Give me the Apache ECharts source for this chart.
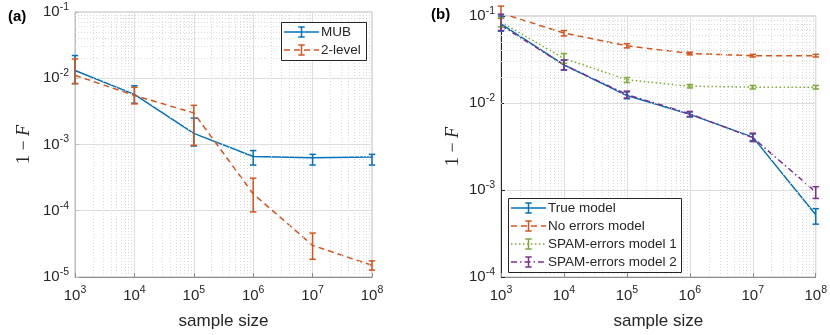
<!DOCTYPE html>
<html>
<head>
<meta charset="utf-8">
<script src="https://cdn.jsdelivr.net/npm/echarts@6/dist/echarts.min.js"></script>
<style>
html,body{margin:0;padding:0;background:#fff;}
#c{width:830px;height:335px;}
</style>
</head>
<body>
<div id="c"></div>
<script>
// ---------- data ----------
const sampleSize = [1e3, 1e4, 1e5, 1e6, 1e7, 1e8];

// panel (a)
const mubVal = [0.0131, 0.0057, 0.00147, 0.00066, 0.00063, 0.00065];
const mubLo  = [0.0083, 0.0042, 0.00095, 0.00049, 0.00049, 0.00049];
const mubHi  = [0.022, 0.0077, 0.0025, 0.00081, 0.00071, 0.00071];
const twoVal = [0.0111, 0.0055, 0.0030, 0.00018, 3.0e-5, 1.5e-5];
const twoLo  = [0.0083, 0.0041, 0.00097, 9.6e-5, 1.85e-5, 1.27e-5];
const twoHi  = [0.0196, 0.0073, 0.0039, 0.00031, 4.6e-5, 1.75e-5];

// panel (b)
const trueVal = [0.081, 0.0274, 0.0122, 0.0074, 0.00405, 0.00052];
const trueLo  = [0.067, 0.024, 0.0112, 0.0069, 0.0037, 0.000405];
const trueHi  = [0.100, 0.031, 0.0134, 0.0079, 0.0044, 0.00061];
const noErrVal = [0.108, 0.0637, 0.0454, 0.0371, 0.035, 0.035];
const noErrLo  = [0.094, 0.059, 0.043, 0.0358, 0.0338, 0.0338];
const noErrHi  = [0.130, 0.068, 0.048, 0.0384, 0.0362, 0.0362];
const spam1Val = [0.085, 0.0326, 0.0185, 0.0156, 0.0152, 0.0152];
const spam1Lo  = [0.075, 0.0286, 0.0172, 0.0149, 0.0145, 0.0145];
const spam1Hi  = [0.095, 0.037, 0.0196, 0.0163, 0.0159, 0.0159];
const spam2Val = [0.078, 0.0274, 0.0125, 0.0075, 0.0040, 0.00095];
const spam2Lo  = [0.068, 0.024, 0.0114, 0.0070, 0.0036, 0.00080];
const spam2Hi  = [0.105, 0.0312, 0.0137, 0.0080, 0.0045, 0.00109];

const namesA = ['MUB', '2-level'];
const namesB = ['True model', 'No errors model', 'SPAM-errors model 1', 'SPAM-errors model 2'];
const xLabel = 'sample size';
const panelTags = ['(a)', '(b)'];

// ---------- style ----------
const C_BLUE = '#0072BD', C_ORANGE = '#D95319', C_GREEN = '#77AC30', C_PURPLE = '#7E2F8E';
const TXT = '#262626';
const FONT = '"Liberation Sans", Arial, Helvetica, sans-serif';
const DASH = [6, 4], DOT = [1.5, 2.5], DASHDOT = [6, 3, 1.5, 3];

function pts(ys) { return sampleSize.map((x, i) => [x, ys[i]]); }
function errs(lo, hi) { return sampleSize.map((x, i) => [x, lo[i], hi[i]]); }

function minorVals(e0, e1) {
  const out = [];
  for (let k = e0; k < e1; k++) for (let m = 2; m <= 9; m++) out.push(m * Math.pow(10, k));
  return out;
}

function errSeries(data, color, gi) {
  return {
    type: 'custom', xAxisIndex: gi, yAxisIndex: gi, data: data, z: 5, clip: false,
    encode: { x: 0, y: [1, 2] },
    renderItem: function (params, api) {
      const x = api.value(0), lo = api.value(1), hi = api.value(2);
      const a = api.coord([x, lo]), b = api.coord([x, hi]);
      const w = 3.2;
      const st = { stroke: color, lineWidth: 1.5 };
      return { type: 'group', children: [
        { type: 'line', shape: { x1: a[0], y1: a[1], x2: b[0], y2: b[1] }, style: st },
        { type: 'line', shape: { x1: a[0] - w, y1: a[1], x2: a[0] + w, y2: a[1] }, style: st },
        { type: 'line', shape: { x1: b[0] - w, y1: b[1], x2: b[0] + w, y2: b[1] }, style: st }
      ]};
    }
  };
}
function lineSeries(name, data, color, dash, gi) {
  return {
    name: name, type: 'line', xAxisIndex: gi, yAxisIndex: gi, data: data, showSymbol: false,
    z: 4, lineStyle: { color: color, width: 1.5, type: dash }, silent: true, animation: false
  };
}
function minorGridSeries(gi, xe0, xe1, ye0, ye1) {
  const d = [];
  minorVals(xe0, xe1).forEach(v => d.push({ xAxis: v }));
  minorVals(ye0, ye1).forEach(v => d.push({ yAxis: v }));
  return {
    type: 'line', xAxisIndex: gi, yAxisIndex: gi, data: [], z: 1, silent: true,
    markLine: { silent: true, symbol: ['none', 'none'], label: { show: false }, animation: false,
      lineStyle: { type: [1, 2], color: '#dadada', width: 1 }, data: d }
  };
}

const tickFmt = function (v) {
  const e = Math.round(Math.log10(v));
  return '{b|10}{s|' + e + '}';
};
const tickRich = {
  b: { fontSize: 15, fontFamily: FONT, color: TXT, lineHeight: 17 },
  s: { fontSize: 10.5, fontFamily: FONT, color: TXT, padding: [0, 0, 10, 0] }
};

function xAx(gi, lineColor) {
  return {
    type: 'log', logBase: 10, gridIndex: gi, min: 1e3, max: 1e8, splitNumber: 5,
    name: xLabel, nameLocation: 'middle', nameGap: 36,
    nameTextStyle: { fontSize: 17, fontFamily: FONT, color: TXT },
    axisLine: { show: true, lineStyle: { color: lineColor, width: 1 } },
    axisTick: { show: true, inside: true, length: 4, lineStyle: { color: lineColor } },
    axisLabel: { formatter: tickFmt, rich: tickRich, margin: 8 },
    splitLine: { show: true, lineStyle: { color: '#dedede', width: 1 } },
    minorTick: { show: false }
  };
}
function yAx(gi, min, max, lineColor, gap) {
  return {
    type: 'log', logBase: 10, gridIndex: gi, min: min, max: max,
    splitNumber: Math.round(Math.log10(max / min)),
    name: '{n|1 − }{f|F}', nameLocation: 'middle', nameGap: gap, nameRotate: 90,
    nameTextStyle: { rich: {
      n: { fontSize: 18, fontFamily: '"Liberation Serif", "DejaVu Serif", serif', color: TXT },
      f: { fontSize: 18, fontStyle: 'italic', fontFamily: '"Liberation Serif", "DejaVu Serif", serif', color: TXT }
    } },
    axisLine: { show: true, lineStyle: { color: lineColor, width: 1 } },
    axisTick: { show: true, inside: true, length: 4, lineStyle: { color: lineColor } },
    axisLabel: { formatter: tickFmt, rich: tickRich, margin: 6 },
    splitLine: { show: true, lineStyle: { color: '#dedede', width: 1 } }
  };
}

// legend built as graphic
function legendGraphic(x0, y0, w, entries, rowH, lineLen) {
  const els = [];
  const h = entries.length * rowH + 2;
  els.push({ type: 'rect', left: x0, top: y0, shape: { x: 0, y: 0, width: w, height: h },
    style: { fill: '#fff', stroke: TXT, lineWidth: 1 }, z: 10 });
  entries.forEach((en, i) => {
    const cy = y0 + 1 + rowH * (i + 0.5);
    const lx0 = x0 + 3, lx1 = x0 + 3 + lineLen, cx = (lx0 + lx1) / 2;
    const st = { stroke: en.color, lineWidth: 1.5 };
    els.push({ type: 'line', shape: { x1: lx0, y1: cy, x2: lx1, y2: cy }, style: Object.assign({ lineDash: en.dash }, st), z: 11 });
    els.push({ type: 'line', shape: { x1: cx, y1: cy - 5, x2: cx, y2: cy + 5 }, style: st, z: 11 });
    els.push({ type: 'line', shape: { x1: cx - 3.2, y1: cy - 5, x2: cx + 3.2, y2: cy - 5 }, style: st, z: 11 });
    els.push({ type: 'line', shape: { x1: cx - 3.2, y1: cy + 5, x2: cx + 3.2, y2: cy + 5 }, style: st, z: 11 });
    els.push({ type: 'text', x: lx1 + 2, y: cy, style: { text: en.name, fill: TXT, font: '13.5px ' + FONT, textVerticalAlign: 'middle', verticalAlign: 'middle' }, z: 11 });
  });
  return els;
}

const chart = echarts.init(document.getElementById('c'), null, { renderer: 'canvas' });

const option = {
  animation: false,
  backgroundColor: '#fff',
  grid: [
    { left: 75, top: 12, width: 297, height: 271, show: true, borderColor: '#bdbdbd', borderWidth: 1, containLabel: false },
    { left: 501, top: 16, width: 315, height: 266, show: true, borderColor: '#bdbdbd', borderWidth: 1, containLabel: false }
  ],
  xAxis: [xAx(0, '#8c8c8c'), xAx(1, '#8c8c8c')],
  yAxis: [yAx(0, 1e-5, 1e-1, '#bdbdbd', 42), yAx(1, 1e-4, 1e-1, '#262626', 39)],
  series: [
    minorGridSeries(0, 3, 8, -5, -1),
    minorGridSeries(1, 3, 8, -4, -1),
    lineSeries(namesA[0], pts(mubVal), C_BLUE, 'solid', 0),
    errSeries(errs(mubLo, mubHi), C_BLUE, 0),
    lineSeries(namesA[1], pts(twoVal), C_ORANGE, DASH, 0),
    errSeries(errs(twoLo, twoHi), C_ORANGE, 0),
    lineSeries(namesB[0], pts(trueVal), C_BLUE, 'solid', 1),
    errSeries(errs(trueLo, trueHi), C_BLUE, 1),
    lineSeries(namesB[1], pts(noErrVal), C_ORANGE, DASH, 1),
    errSeries(errs(noErrLo, noErrHi), C_ORANGE, 1),
    lineSeries(namesB[2], pts(spam1Val), C_GREEN, DOT, 1),
    errSeries(errs(spam1Lo, spam1Hi), C_GREEN, 1),
    lineSeries(namesB[3], pts(spam2Val), C_PURPLE, DASHDOT, 1),
    errSeries(errs(spam2Lo, spam2Hi), C_PURPLE, 1)
  ],
  graphic: [].concat(
    legendGraphic(281, 22, 85, [
      { name: namesA[0], color: C_BLUE, dash: null },
      { name: namesA[1], color: C_ORANGE, dash: DASH }
    ], 18, 35),
    legendGraphic(508, 198, 173, [
      { name: namesB[0], color: C_BLUE, dash: null },
      { name: namesB[1], color: C_ORANGE, dash: DASH },
      { name: namesB[2], color: C_GREEN, dash: DOT },
      { name: namesB[3], color: C_PURPLE, dash: DASHDOT }
    ], 18, 35),
    [
      { type: 'text', x: 8, y: 17, style: { text: panelTags[0], fill: '#000', font: 'bold 15px ' + FONT, verticalAlign: 'middle', textVerticalAlign: 'middle' } },
      { type: 'text', x: 431, y: 15, style: { text: panelTags[1], fill: '#000', font: 'bold 15px ' + FONT, verticalAlign: 'middle', textVerticalAlign: 'middle' } }
    ]
  )
};
chart.setOption(option);
</script>
</body>
</html>
